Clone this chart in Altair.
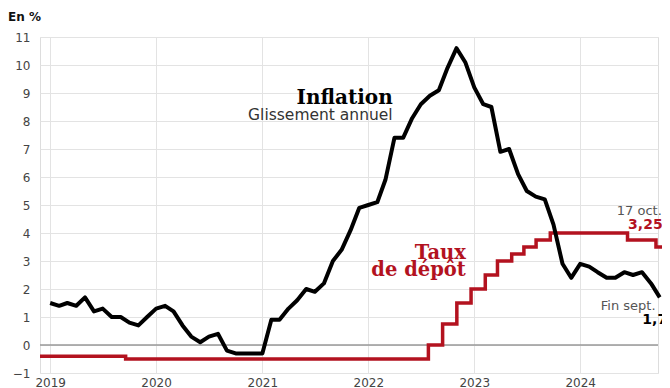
import altair as alt
import pandas as pd

# Euro-area inflation, year-on-year (%), Dec 2018 -> Sep 2024 (plotted at month end)
inflation = [
    1.5,
    1.4, 1.5, 1.4, 1.7, 1.2, 1.3, 1.0, 1.0, 0.8, 0.7, 1.0, 1.3,
    1.4, 1.2, 0.7, 0.3, 0.1, 0.3, 0.4, -0.2, -0.3, -0.3, -0.3, -0.3,
    0.9, 0.9, 1.3, 1.6, 2.0, 1.9, 2.2, 3.0, 3.4, 4.1, 4.9, 5.0,
    5.1, 5.9, 7.4, 7.4, 8.1, 8.6, 8.9, 9.1, 9.9, 10.6, 10.1, 9.2,
    8.6, 8.5, 6.9, 7.0, 6.1, 5.5, 5.3, 5.2, 4.3, 2.9, 2.4, 2.9,
    2.8, 2.6, 2.4, 2.4, 2.6, 2.5, 2.6, 2.2, 1.7,
]
infl_first_plot_date = "2019-01-01"

# ECB deposit facility rate (%)
rate_dates = [
    "2018-11-27", "2019-09-18", "2022-07-27", "2022-09-14", "2022-11-02",
    "2022-12-21", "2023-02-08", "2023-03-22", "2023-05-10", "2023-06-21",
    "2023-08-02", "2023-09-20", "2024-06-12", "2024-09-18", "2024-10-23",
]
rates = [-0.4, -0.5, 0.0, 0.75, 1.5, 2.0, 2.5, 3.0, 3.25, 3.5, 3.75, 4.0, 3.75, 3.5, 3.25]

year_ticks = [2019, 2020, 2021, 2022, 2023, 2024]
y_ticks = list(range(-1, 12))

df_inf = pd.DataFrame({
    "date": pd.date_range(infl_first_plot_date, periods=len(inflation), freq="MS"),
    "value": inflation,
})
df_rate = pd.DataFrame({"date": pd.to_datetime(rate_dates), "value": rates})
df_zero = pd.DataFrame({"value": [0]})

RED = "#b3121f"
SANS = "DejaVu Sans"
SERIF = "DejaVu Serif"

x_scale = alt.Scale(domain=[alt.DateTime(year=2018, month=11, date=27),
                            alt.DateTime(year=2024, month=9, date=25)])
y_scale = alt.Scale(domain=[-1, 11], nice=False, zero=False)

x_axis = alt.Axis(values=[alt.DateTime(year=y, month=1, date=1) for y in year_ticks],
                  format="%Y", grid=True, gridColor="#e3e3e3", domain=False, ticks=False,
                  labelPadding=4, labelFontSize=12, labelColor="#444", labelFont=SANS,
                  title=None)
y_axis = alt.Axis(values=y_ticks, grid=True, gridColor="#e3e3e3", domain=False, ticks=False,
                  labelPadding=10, labelFontSize=12, labelColor="#444", labelFont=SANS,
                  title=None)

X = alt.X("date:T", scale=x_scale, axis=x_axis)
Y = alt.Y("value:Q", scale=y_scale, axis=y_axis)

zero = alt.Chart(df_zero).mark_rule(color="#999", strokeWidth=1.5).encode(y=Y)

rate_line = alt.Chart(df_rate).mark_line(
    interpolate="step-after", color=RED, strokeWidth=3.5, clip=False).encode(x=X, y=Y)

infl_line = alt.Chart(df_inf).mark_line(
    color="black", strokeWidth=4, strokeJoin="round", clip=False).encode(x=X, y=Y)


def label(text, date, value, align, font, size, weight, color):
    d = pd.DataFrame({"date": [pd.Timestamp(date)], "value": [value], "t": [text]})
    return alt.Chart(d).mark_text(align=align, baseline="middle", font=font, fontSize=size,
                                  fontWeight=weight, color=color, clip=False).encode(
        x=X, y=Y, text="t:N")


labels = [
    label("Inflation", "2022-03-26", 8.82, "right", SERIF, 20, "bold", "black"),
    label("Glissement annuel", "2022-03-26", 8.2, "right", SANS, 15.5, "normal", "#333"),
    label("Taux", "2022-12-03", 3.28, "right", SERIF, 19.5, "bold", RED),
    label("de dépôt", "2022-12-03", 2.68, "right", SERIF, 19.5, "bold", RED),
    label("17 oct.", "2024-05-06", 4.77, "left", SANS, 13, "normal", "#555"),
    label("3,25", "2024-06-14", 4.30, "left", SANS, 14, "bold", RED),
    label("Fin sept.", "2024-03-12", 1.38, "left", SANS, 13, "normal", "#555"),
    label("1,7", "2024-08-02", 0.88, "left", SANS, 14, "bold", "black"),
]

en_pct = alt.Chart(pd.DataFrame({"t": ["En %"]})).mark_text(
    align="left", baseline="middle", font=SANS, fontSize=12, fontWeight="bold",
    color="#111", clip=False).encode(x=alt.value(-32), y=alt.value(-20), text="t:N")

chart = alt.layer(zero, rate_line, infl_line, *labels, en_pct).properties(
    width=618, height=336,
    autosize=alt.AutoSizeParams(type="none"),
    padding={"left": 32, "top": 29, "right": 4, "bottom": 15},
).configure_view(strokeWidth=0).configure(background="white")

chart.save("out.html", embed_options={"renderer": "svg", "actions": False})
